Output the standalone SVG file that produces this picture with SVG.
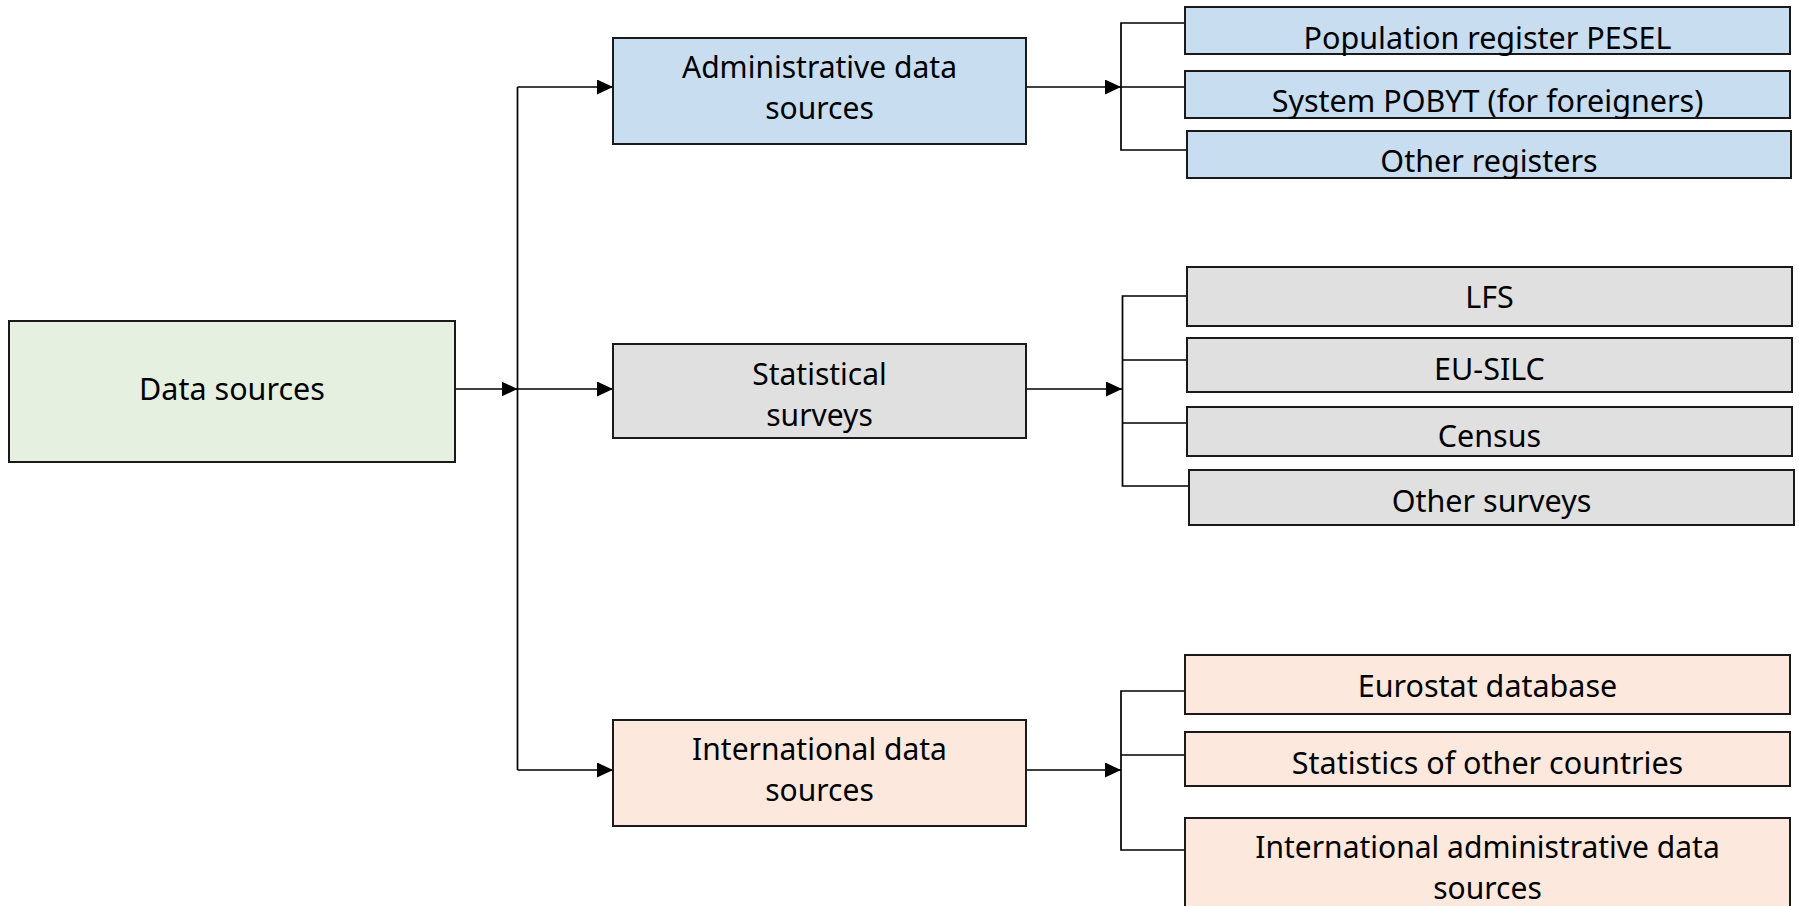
<svg xmlns="http://www.w3.org/2000/svg" width="1799" height="906" viewBox="0 0 1799 906">
<style>
.box{stroke:#1a1a1a;stroke-width:2}
.g{fill:#e5f0e0}.b{fill:#c8ddf0}.s{fill:#e0e0e0}.p{fill:#fce8dd}
text{font-family:"Noto Sans","Open Sans",sans-serif;font-size:30.5px;fill:#000;text-anchor:middle}
text.m{font-size:30px}
.c{fill:none;stroke:#000;stroke-width:1.7}
</style>
<defs>
<marker id="ah" viewBox="0 0 16 15" refX="16" refY="7.5" markerWidth="16" markerHeight="15" markerUnits="userSpaceOnUse" orient="auto">
<path d="M0,0 L16,7.5 L0,15 Z" fill="#000"/>
</marker>
</defs>
<g id="connectors">
<path class="c" d="M455,389 H517.5" marker-end="url(#ah)"/>
<path class="c" d="M517.5,87 V770"/>
<path class="c" d="M517.5,87 H613" marker-end="url(#ah)"/>
<path class="c" d="M517.5,389 H613" marker-end="url(#ah)"/>
<path class="c" d="M517.5,770 H613" marker-end="url(#ah)"/>
<path class="c" d="M1026,87 H1121" marker-end="url(#ah)"/>
<path class="c" d="M1185,23 H1121 V150 H1187 M1121,87 H1185"/>
<path class="c" d="M1026,389 H1122" marker-end="url(#ah)"/>
<path class="c" d="M1187,296 H1122.5 V486 H1189 M1122.5,360 H1187 M1122.5,423 H1187"/>
<path class="c" d="M1026,770 H1121" marker-end="url(#ah)"/>
<path class="c" d="M1185,691 H1121 V850 H1185 M1121,755 H1185"/>
</g>
<g id="data-sources"><rect class="box g" x="9" y="321" width="446" height="141"/><text x="232" y="400">Data sources</text></g>
<g id="administrative"><rect class="box b" x="613" y="38" width="413" height="106"/><text class="m" x="819.5" y="78">Administrative data</text><text class="m" x="819.5" y="119">sources</text></g>
<g id="statistical"><rect class="box s" x="613" y="344" width="413" height="94"/><text class="m" x="819.5" y="385">Statistical</text><text class="m" x="819.5" y="426">surveys</text></g>
<g id="international"><rect class="box p" x="613" y="720" width="413" height="106"/><text class="m" x="819.5" y="760">International data</text><text class="m" x="819.5" y="801">sources</text></g>
<g id="pesel"><rect class="box b" x="1185" y="7" width="605" height="47"/><text x="1487.5" y="49">Population register PESEL</text></g>
<g id="pobyt"><rect class="box b" x="1185" y="71" width="605" height="47"/><text x="1487.5" y="112">System POBYT (for foreigners)</text></g>
<g id="other-registers"><rect class="box b" x="1187" y="131" width="604" height="47"/><text x="1489" y="172">Other registers</text></g>
<g id="lfs"><rect class="box s" x="1187" y="267" width="605" height="59"/><text x="1489.5" y="308">LFS</text></g>
<g id="eu-silc"><rect class="box s" x="1187" y="338" width="605" height="54"/><text x="1489.5" y="380">EU-SILC</text></g>
<g id="census"><rect class="box s" x="1187" y="407" width="605" height="49"/><text x="1489.5" y="447">Census</text></g>
<g id="other-surveys"><rect class="box s" x="1189" y="470" width="605" height="55"/><text x="1491.5" y="512">Other surveys</text></g>
<g id="eurostat"><rect class="box p" x="1185" y="655" width="605" height="59"/><text x="1487.5" y="697">Eurostat database</text></g>
<g id="other-countries"><rect class="box p" x="1185" y="732" width="605" height="54"/><text x="1487.5" y="774">Statistics of other countries</text></g>
<g id="intl-admin"><rect class="box p" x="1185" y="818" width="605" height="100"/><text class="m" x="1487.5" y="858">International administrative data</text><text class="m" x="1487.5" y="899">sources</text></g>
</svg>
